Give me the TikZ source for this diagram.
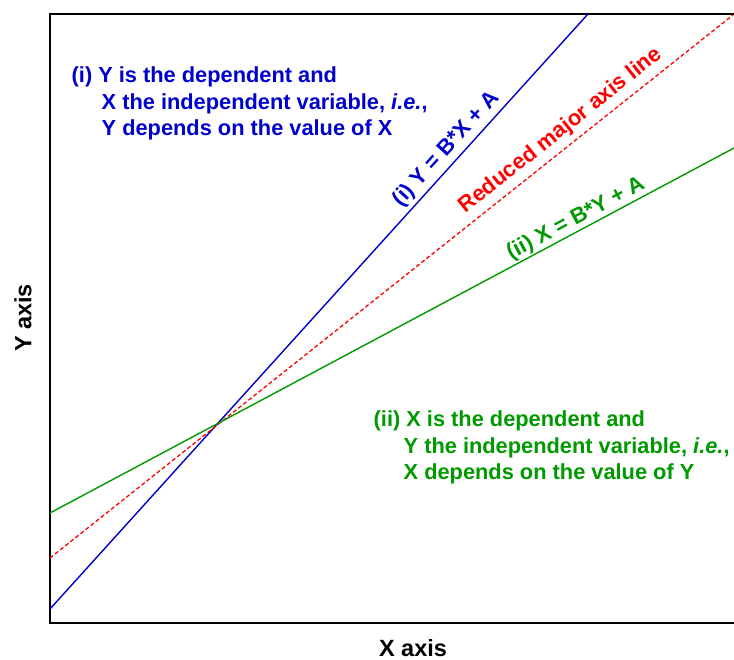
\documentclass[tikz,border=0pt]{standalone}
\usepackage{fontspec}
\setmainfont{Liberation Sans}
\definecolor{fitblue}{RGB}{0,0,204}
\definecolor{fitgreen}{RGB}{0,153,0}

\tikzstyle{frame} = [line width=2pt]
\tikzstyle{regline} = [line width=1.4pt]
\tikzstyle{rma} = [line width=1.3pt, red, dash pattern=on 4pt off 2.5pt]
\tikzstyle{lbl} = [font=\fontsize{22}{26.5}\selectfont\bfseries, inner sep=0pt, sloped]
\tikzstyle{note} = [font=\fontsize{21.8}{26.5}\selectfont\bfseries, align=left, inner sep=0pt, anchor=north west]
\tikzstyle{axislbl} = [font=\fontsize{23.5}{28}\selectfont\bfseries, inner sep=0pt]

\begin{document}
\begin{tikzpicture}[x=1pt, y=1pt]
\useasboundingbox (0,0) rectangle (734,660);

% plot frame (open on the right)
\coordinate (tr) at (734,646);
\coordinate (tl) at (50,646);
\coordinate (bl) at (50,37);
\coordinate (br) at (734,37);
\draw[frame] (tr) -- (tl) -- (bl) -- (br);

% the three lines
\coordinate (b0) at (50,51);
\coordinate (b1) at (588,646);
\coordinate (r0) at (50,102);
\coordinate (r1) at (733,645);
\coordinate (g0) at (50,147);
\coordinate (g1) at (734,512);

\draw[regline, fitblue] (b0) -- (b1)
    node[lbl, pos=0.757, above=3.5pt] (blueLbl) {(i) Y = B*X + A};
\draw[rma] (r0) -- (r1)
    node[lbl, pos=0.763, above=5.5pt] (redLbl) {Reduced major axis line};
\draw[regline, fitgreen] (g0) -- (g1)
    node[lbl, pos=0.777, above=1pt] (greenLbl) {(ii) X = B*Y + A};

% explanations
\node[note, text=fitblue] (blueNote) at (71.5,593)
    {(i) Y is the dependent and\\
     \hspace*{30pt}X the independent variable, \textit{i.e.},\\
     \hspace*{30pt}Y depends on the value of X};
\node[note, text=fitgreen] (greenNote) at (373.5,249)
    {(ii) X is the dependent and\\
     \hspace*{30pt}Y the independent variable, \textit{i.e.},\\
     \hspace*{30pt}X depends on the value of Y};

% axis titles
\node[axislbl, anchor=base] (xlab) at (413,3.5) {X axis};
\node[axislbl, anchor=base, rotate=90] (ylab) at (31.5,342) {Y axis};
\end{tikzpicture}
\end{document}
